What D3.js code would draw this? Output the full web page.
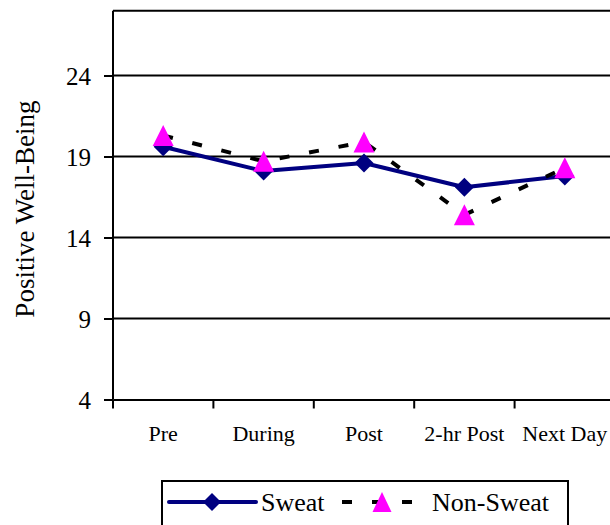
<!DOCTYPE html>
<html>
<head>
<meta charset="utf-8">
<script src="https://cdn.jsdelivr.net/npm/d3@7"></script>
<style>
  body { margin: 0; background: #fff; }
  svg text { font-family: "Liberation Serif", "Times New Roman", Times, serif; fill: #000; }
</style>
</head>
<body>
<script>
// Positive well-being, sweat vs non-sweat sessions

const w = 610;
const h = 525;

const categories = ["Pre", "During", "Post", "2-hr Post", "Next Day"];
const sweat = [19.6, 18.1, 18.6, 17.1, 17.8];
const nonSweat = [20.3, 18.7, 19.9, 15.4, 18.3];
const yTicks = [4, 9, 14, 19, 24];

const plotL = 113, plotR = 615, plotT = 10.7, plotB = 399.5;
const serif = "'Liberation Serif', 'Times New Roman', Times, serif";

const svg = d3.select("body")
  .append("svg")
  .attr("width", w)
  .attr("height", h)
  .style("font-family", serif);

const x_scale = d3.scaleBand()
  .domain(categories)
  .range([plotL, plotR]);

const y_scale = d3.scaleLinear()
  .domain([4, 28])
  .range([plotB, plotT]);

const cx = d => x_scale(d) + x_scale.bandwidth() / 2;

// gridlines + top border
svg.append("g")
  .selectAll("line")
  .data(yTicks.slice(1).concat([28]))
  .enter()
  .append("line")
  .attr("x1", plotL)
  .attr("x2", plotR)
  .attr("y1", d => y_scale(d))
  .attr("y2", d => y_scale(d))
  .attr("stroke", "#000")
  .attr("stroke-width", 2);

// y axis
const y_axis = d3.axisLeft(y_scale)
  .tickValues(yTicks)
  .tickSize(9)
  .tickPadding(13)
  .tickSizeOuter(0);

const yg = svg.append("g")
  .attr("transform", `translate(${plotL},0)`)
  .call(y_axis)
  .attr("font-family", serif);
yg.select(".domain").attr("stroke", "#000").attr("stroke-width", 2)
  .attr("d", `M0,${y_scale(28)}V${plotB}`);
yg.selectAll(".tick line").attr("stroke", "#000").attr("stroke-width", 2);
yg.selectAll(".tick text")
  .attr("font-size", 25)
  .attr("dy", "0.34em");

// x axis
const x_axis = d3.axisBottom(x_scale)
  .tickSize(0)
  .tickPadding(26)
  .tickSizeOuter(0);

const xg = svg.append("g")
  .attr("transform", `translate(0,${plotB})`)
  .call(x_axis)
  .attr("font-family", serif);
xg.select(".domain").attr("stroke", "#000").attr("stroke-width", 2);
xg.selectAll(".tick text")
  .attr("font-size", 22);

// category boundary ticks
xg.selectAll(".bound")
  .data(categories.map(c => x_scale(c)).concat([plotR]))
  .enter()
  .append("line")
  .attr("class", "bound")
  .attr("x1", d => d)
  .attr("x2", d => d)
  .attr("y1", 0)
  .attr("y2", 9)
  .attr("stroke", "#000")
  .attr("stroke-width", 2);

// y title
svg.append("text")
  .attr("transform", `translate(34,${(plotT + plotB) / 2 + 4}) rotate(-90)`)
  .attr("text-anchor", "middle")
  .attr("font-size", 27)
  .text("Positive Well-Being");

const diamond = r => `M0,${-r}L${r},0L0,${r}L${-r},0Z`;
const triangle = (hw, hh) => `M0,${-hh}L${hw},${hh}L${-hw},${hh}Z`;

const line = d3.line()
  .x((d, i) => cx(categories[i]))
  .y(d => y_scale(d));

// Sweat series
svg.append("path")
  .datum(sweat)
  .attr("d", line)
  .attr("fill", "none")
  .attr("stroke", "#000080")
  .attr("stroke-width", 4)
  .attr("stroke-linejoin", "round");

svg.selectAll(".sw")
  .data(sweat)
  .enter()
  .append("path")
  .attr("class", "sw")
  .attr("d", diamond(9.5))
  .attr("transform", (d, i) => `translate(${cx(categories[i])},${y_scale(d)})`)
  .attr("fill", "#000080");

// Non-Sweat series
svg.append("path")
  .datum(nonSweat)
  .attr("d", line)
  .attr("fill", "none")
  .attr("stroke", "#000")
  .attr("stroke-width", 4)
  .attr("stroke-dasharray", "10,20");

svg.selectAll(".ns")
  .data(nonSweat)
  .enter()
  .append("path")
  .attr("class", "ns")
  .attr("d", triangle(10.5, 10.5))
  .attr("transform", (d, i) => `translate(${cx(categories[i])},${y_scale(d)})`)
  .attr("fill", "#ff00ff");

// legend
const lg = svg.append("g");
lg.append("rect")
  .attr("x", 162).attr("y", 481)
  .attr("width", 406).attr("height", 60)
  .attr("fill", "#fff")
  .attr("stroke", "#000")
  .attr("stroke-width", 2);

lg.append("line")
  .attr("x1", 169).attr("x2", 256)
  .attr("y1", 502).attr("y2", 502)
  .attr("stroke", "#000080").attr("stroke-width", 4)
  .attr("stroke-linecap", "round");
lg.append("path")
  .attr("d", diamond(9))
  .attr("transform", "translate(212,502)")
  .attr("fill", "#000080");
lg.append("text")
  .attr("x", 261).attr("y", 511)
  .attr("font-size", 26)
  .text("Sweat");

lg.append("line")
  .attr("x1", 342).attr("x2", 413)
  .attr("y1", 502).attr("y2", 502)
  .attr("stroke", "#000").attr("stroke-width", 4)
  .attr("stroke-dasharray", "10,20");
lg.append("path")
  .attr("d", triangle(9.5, 10))
  .attr("transform", "translate(382,502)")
  .attr("fill", "#ff00ff");
lg.append("text")
  .attr("x", 432).attr("y", 511)
  .attr("font-size", 26)
  .text("Non-Sweat");
</script>
</body>
</html>
